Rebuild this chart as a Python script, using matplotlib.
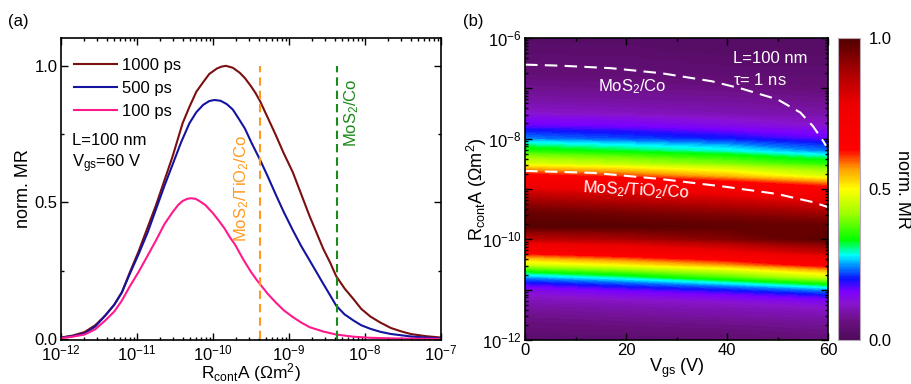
import numpy as np
import matplotlib
matplotlib.use('Agg')
import matplotlib.pyplot as plt
import matplotlib.cm as cm
from matplotlib.colors import LinearSegmentedColormap, Normalize
from matplotlib.ticker import LogLocator, MultipleLocator, FuncFormatter, NullFormatter

plt.rcParams['font.family'] = ['Liberation Sans', 'DejaVu Sans']
plt.rcParams['mathtext.default'] = 'regular'
plt.rcParams['font.size'] = 12

# ---------------- panel (a): normalised MR vs contact resistance ----------------
logr_1000 = [-12, -11.85, -11.69, -11.55, -11.42, -11.3, -11.2, -11.1, -10.98, -10.75, -10.53,
             -10.4, -10.31, -10.22, -10.13, -10.05, -9.95, -9.89, -9.83, -9.74, -9.65, -9.58,
             -9.5, -9.44, -9.38, -9.28, -9.18, -9.07, -8.95, -8.84, -8.73, -8.64, -8.55, -8.46,
             -8.38, -8.27, -8.15, -8.05, -7.93, -7.8, -7.66, -7.53, -7.4, -7.2, -7.0]
mr_1000 = [0.005, 0.012, 0.025, 0.05, 0.085, 0.125, 0.17, 0.24, 0.32, 0.49, 0.67,
           0.79, 0.85, 0.905, 0.94, 0.97, 0.99, 0.997, 1.0, 0.993, 0.975, 0.955,
           0.925, 0.9, 0.87, 0.81, 0.75, 0.68, 0.61, 0.53, 0.45, 0.39, 0.33, 0.28,
           0.23, 0.185, 0.145, 0.11, 0.082, 0.06, 0.04, 0.028, 0.018, 0.01, 0.005]

logr_500 = [-12, -11.85, -11.69, -11.55, -11.42, -11.3, -11.2, -11.1, -10.98, -10.86, -10.75,
            -10.64, -10.53, -10.42, -10.31, -10.22, -10.13, -10.05, -9.98, -9.9, -9.82, -9.74,
            -9.67, -9.58, -9.49, -9.38, -9.28, -9.18, -9.07, -8.95, -8.84, -8.73, -8.64, -8.55,
            -8.46, -8.38, -8.27, -8.15, -8.05, -7.93, -7.8, -7.66, -7.4, -7.2, -7.0]
mr_500 = [0.005, 0.01, 0.02, 0.045, 0.085, 0.125, 0.17, 0.235, 0.31, 0.39, 0.475,
          0.56, 0.64, 0.72, 0.79, 0.83, 0.857, 0.871, 0.875, 0.872, 0.86, 0.84,
          0.81, 0.77, 0.716, 0.655, 0.595, 0.532, 0.465, 0.398, 0.34, 0.288, 0.245, 0.202,
          0.16, 0.122, 0.09, 0.067, 0.05, 0.037, 0.026, 0.018, 0.009, 0.005, 0.002]

logr_100 = [-12, -11.85, -11.69, -11.55, -11.42, -11.3, -11.2, -11.1, -10.98, -10.86, -10.75,
            -10.64, -10.53, -10.46, -10.4, -10.34, -10.29, -10.23, -10.18, -10.1, -10.0, -9.93,
            -9.85, -9.78, -9.71, -9.6, -9.5, -9.42, -9.38, -9.28, -9.18, -9.07, -8.95, -8.84,
            -8.73, -8.55, -8.38, -8.15, -7.93, -7.66, -7.4, -7.0]
mr_100 = [0.003, 0.008, 0.016, 0.035, 0.067, 0.1, 0.14, 0.19, 0.245, 0.305, 0.361,
          0.42, 0.465, 0.49, 0.505, 0.513, 0.515, 0.513, 0.505, 0.49, 0.46, 0.435,
          0.405, 0.373, 0.345, 0.29, 0.245, 0.214, 0.2, 0.165, 0.135, 0.105, 0.08, 0.06,
          0.043, 0.027, 0.016, 0.008, 0.004, 0.002, 0.001, 0.0]

r_mos2_tio2_co = 4.2e-10
r_mos2_co = 4.3e-9

# ---------------- panel (b): map vs gate voltage ----------------
vgs_cols = [0, 20, 40, 60]
logr_rows = np.arange(-12, -5.99, 0.25)
mr_v0 = [0.03, 0.05, 0.07, 0.10, 0.14, 0.25, 0.46, 0.66, 0.85, 0.99, 0.97, 0.90, 0.79,
         0.65, 0.47, 0.35, 0.24, 0.17, 0.12, 0.09, 0.07, 0.05, 0.04, 0.03, 0.02]
mr_v20 = [0.035, 0.055, 0.08, 0.11, 0.17, 0.30, 0.51, 0.71, 0.88, 0.99, 0.95, 0.87, 0.76,
          0.61, 0.44, 0.32, 0.22, 0.16, 0.11, 0.085, 0.065, 0.048, 0.038, 0.028, 0.02]
mr_v40 = [0.04, 0.06, 0.09, 0.12, 0.20, 0.37, 0.57, 0.77, 0.93, 0.98, 0.93, 0.84, 0.71,
          0.55, 0.40, 0.29, 0.20, 0.14, 0.10, 0.08, 0.06, 0.04, 0.03, 0.02, 0.02]
mr_v60 = [0.05, 0.07, 0.10, 0.14, 0.25, 0.46, 0.66, 0.85, 0.99, 0.97, 0.90, 0.79, 0.65,
          0.47, 0.35, 0.24, 0.17, 0.12, 0.09, 0.07, 0.05, 0.04, 0.03, 0.02, 0.02]

co_v = [0, 7, 17, 27, 37, 43, 50, 54.5, 57, 58.8, 59.6]
co_logr = [-6.53, -6.55, -6.6, -6.7, -6.86, -7.01, -7.22, -7.48, -7.75, -8.01, -8.14]
tio2_v = [0, 13.5, 26.7, 40, 50, 53, 57, 60]
tio2_logr = [-8.64, -8.68, -8.8, -8.96, -9.1, -9.17, -9.26, -9.36]

rainbow = LinearSegmentedColormap.from_list('origin_rainbow', [
    (0.0, '#4e0a5a'), (0.06, '#6a1080'), (0.12, '#8a14d0'), (0.16, '#7a00ff'),
    (0.2, '#1010ff'), (0.24, '#0080ff'), (0.28, '#00ffff'), (0.33, '#00ff00'),
    (0.42, '#a0ff00'), (0.5, '#ffff00'), (0.57, '#ff9900'), (0.63, '#ff0000'),
    (0.78, '#ee0000'), (0.88, '#b00000'), (1.0, '#500000')])

fig = plt.figure(figsize=(9.12, 3.84), dpi=100)
ax_a = fig.add_axes([0.0669, 0.1146, 0.4167, 0.7865])
ax_b = fig.add_axes([0.5757, 0.1146, 0.3322, 0.7865])
cax = fig.add_axes([0.9189, 0.1146, 0.0241, 0.7865])

for ax in (ax_a, ax_b):
    for s in ax.spines.values():
        s.set_linewidth(1.2)
    ax.tick_params(which='both', direction='in', top=True, right=True, width=1.0,
                   labelsize=12, pad=2.5)
    ax.tick_params(which='major', length=5)
    ax.tick_params(which='minor', length=2.5)

# --- (a)
ax_a.plot(10 ** np.array(logr_1000), mr_1000, color='#7b1010', lw=1.5, label='1000 ps')
ax_a.plot(10 ** np.array(logr_500), mr_500, color='#1414a0', lw=1.5, label='500 ps')
ax_a.plot(10 ** np.array(logr_100), mr_100, color='#ff1a8c', lw=1.5, label='100 ps')
ax_a.vlines(r_mos2_tio2_co, 0, 1.0, colors='#ff9a1f', lw=1.5, linestyles=(0, (4, 2.4)))
ax_a.vlines(r_mos2_co, 0, 1.0, colors='#1a8a1a', lw=1.5, linestyles=(0, (4, 2.4)))
ax_a.set_xscale('log')
ax_a.set_xlim(1e-12, 1e-7)
ax_a.set_ylim(-0.004, 1.102)
ax_a.yaxis.set_major_locator(MultipleLocator(0.5))
ax_a.yaxis.set_minor_locator(MultipleLocator(0.25))
ax_a.yaxis.set_major_formatter(FuncFormatter(lambda v, p: f'{v:.1f}'))
ax_a.xaxis.set_major_locator(LogLocator(base=10, numticks=10))
ax_a.xaxis.set_minor_locator(LogLocator(base=10, subs=np.arange(2, 10), numticks=20))
ax_a.xaxis.set_minor_formatter(NullFormatter())
ax_a.set_xlabel('R$_{cont}$A (Ωm$^2$)', fontsize=12.5, labelpad=-1.5)
ax_a.set_ylabel('norm. MR', fontsize=13, labelpad=2)

ax_a.legend(loc='upper left', bbox_to_anchor=(0.033, 0.935), frameon=False, fontsize=12,
            handlelength=2.6, handletextpad=0.3, labelspacing=0.5, borderaxespad=0, borderpad=0)
ax_a.text(0.029, 0.661, 'L=100 nm', transform=ax_a.transAxes, va='center', fontsize=12)
ax_a.text(0.029, 0.585, 'V$_{gs}$=60 V', transform=ax_a.transAxes, va='center', fontsize=12)
ax_a.text(2.4e-10, 0.55, 'MoS$_2$/TiO$_2$/Co', rotation=90, color='#ff9a1f', ha='center',
          va='center', fontsize=12)
ax_a.text(6.6e-9, 0.83, 'MoS$_2$/Co', rotation=90, color='#1a8a1a', ha='center', va='center',
          fontsize=12)

# --- (b)
mr_grid = np.array([mr_v0, mr_v20, mr_v40, mr_v60]).T
V, R = np.meshgrid(vgs_cols, 10 ** logr_rows)
ax_b.contourf(V, R, mr_grid, levels=np.linspace(0, 1, 121), cmap=rainbow, vmin=0, vmax=1,
              extend='both')
ax_b.plot(co_v, 10 ** np.array(co_logr), color='white', lw=1.5, ls=(0, (6, 3.5)))
ax_b.plot(tio2_v, 10 ** np.array(tio2_logr), color='white', lw=1.5, ls=(0, (6, 3.5)))
ax_b.set_yscale('log')
ax_b.set_xlim(0, 60)
ax_b.set_ylim(1e-12, 1e-6)
ax_b.xaxis.set_major_locator(MultipleLocator(20))
ax_b.xaxis.set_minor_locator(MultipleLocator(10))
ax_b.yaxis.set_major_locator(LogLocator(base=10, numticks=10))
ax_b.yaxis.set_major_formatter(FuncFormatter(
    lambda v, p: f'$10^{{{int(round(np.log10(v)))}}}$' if int(round(np.log10(v))) % 2 == 0 else ''))
ax_b.yaxis.set_minor_locator(LogLocator(base=10, subs=np.arange(2, 10), numticks=20))
ax_b.yaxis.set_minor_formatter(NullFormatter())
ax_b.set_xlabel('V$_{gs}$ (V)', fontsize=13, labelpad=-1)
ax_b.set_ylabel('R$_{cont}$A (Ωm$^2$)', fontsize=13, labelpad=-5)
ax_b.text(41.2, 10 ** -6.41, 'L=100 nm', color='white', va='center', fontsize=12)
ax_b.text(41.2, 10 ** -6.83, r'$\tau$= 1 ns', color='white', va='center', fontsize=12)
ax_b.text(21.2, 10 ** -6.97, 'MoS$_2$/Co', color='white', ha='center', va='center', fontsize=12)
ax_b.text(22.0, 10 ** -9.02, 'MoS$_2$/TiO$_2$/Co', color='white', ha='center', va='center',
          fontsize=12, rotation=-3)

cb = fig.colorbar(cm.ScalarMappable(norm=Normalize(0, 1), cmap=rainbow), cax=cax)
cb.set_ticks([0, 0.5, 1.0])
cb.set_ticklabels(['0.0', '0.5', '1.0'])
cb.ax.tick_params(length=0, pad=6, labelsize=12)
cb.outline.set_edgecolor('#b8a8b8')
cb.outline.set_linewidth(0.8)
cb.set_label('norm. MR', rotation=270, fontsize=13, labelpad=14)

fig.text(0.009, 0.943, '(a)', fontsize=12, va='center')
fig.text(0.508, 0.943, '(b)', fontsize=12, va='center')

fig.savefig('out.png', dpi=100)
